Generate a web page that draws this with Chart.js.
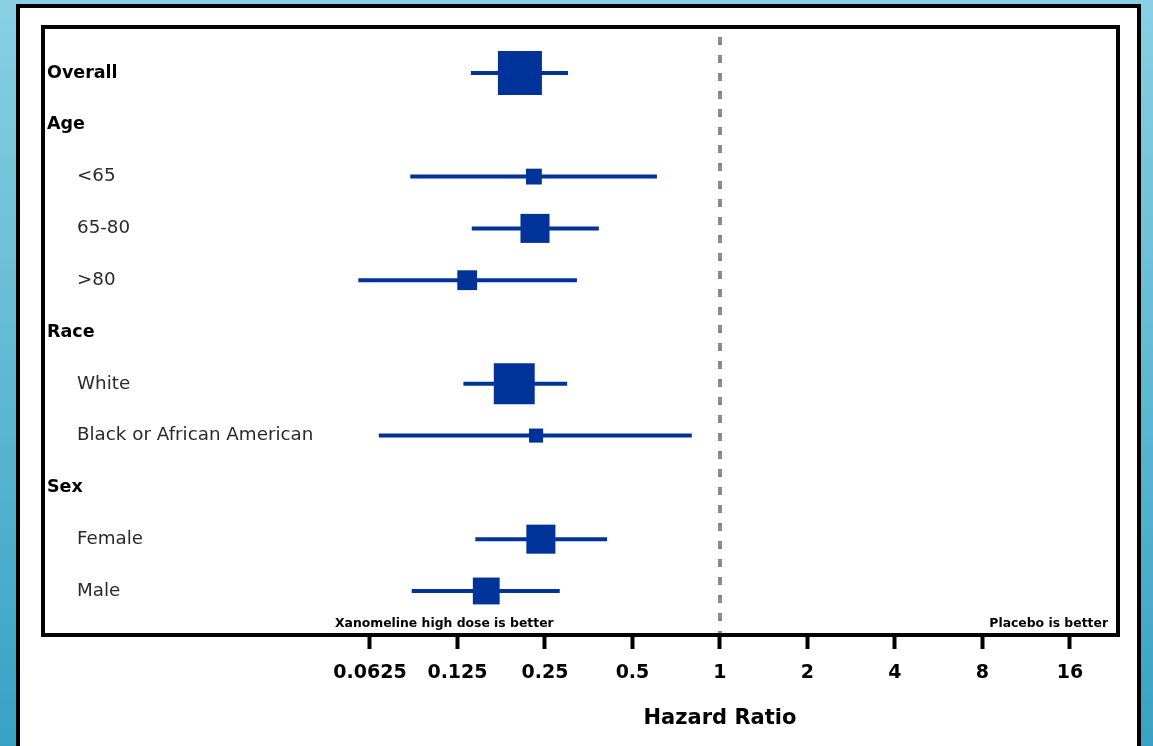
<!DOCTYPE html>
<html>
<head>
<meta charset="utf-8">
<title>Hazard Ratio forest plot</title>
<script src="https://cdn.jsdelivr.net/npm/chart.js@4/dist/chart.umd.min.js"></script>
<style>
  html, body { margin: 0; padding: 0; }
  body {
    width: 1153px; height: 746px; overflow: hidden; position: relative;
    background: linear-gradient(to bottom, #88d0e2, #37a2c3);
  }
  .panel {
    position: absolute; left: 16px; top: 4px; width: 1117px; height: 800px;
    background: #fff; border: 4px solid #000;
  }
  .chart-wrap { position: absolute; left: 0; top: 0; width: 1153px; height: 746px; }
</style>
</head>
<body>
<div class="panel"></div>
<div class="chart-wrap"><canvas id="forest"></canvas></div>
<script>
// Forest plot - hazard ratios by subgroup
const rowLabels = ['Overall', 'Age', '<65', '65-80', '>80', 'Race', 'White',
  'Black or African American', 'Sex', 'Female', 'Male'];
const isHeader = [true, true, false, false, false, true, false, false, true, false, false];
const hazardRatio = [0.205, null, 0.229, 0.231, 0.135, null, 0.196, 0.233, null, 0.242, 0.157];
const lowerCI = [0.139, null, 0.086, 0.140, 0.057, null, 0.131, 0.067, null, 0.144, 0.087];
const upperCI = [0.300, null, 0.607, 0.383, 0.322, null, 0.298, 0.800, null, 0.409, 0.281];
const weights = [100, null, 36, 66, 45, null, 93, 32, null, 66, 61];
const tickValues = [0.0625, 0.125, 0.25, 0.5, 1, 2, 4, 8, 16];
const axisTitle = 'Hazard Ratio';
const leftNote = 'Xanomeline high dose is better';
const rightNote = 'Placebo is better';

const BLUE = '#003399';
const FONT = "'DejaVu Sans', sans-serif";
const Y_MIN = -0.888, Y_MAX = 10.85;

// one line dataset per confidence interval
const ciDatasets = rowLabels.map((label, i) => {
  if (lowerCI[i] == null) return null;
  return {
    type: 'line',
    label: label + ' CI',
    data: [{ x: lowerCI[i], y: i }, { x: upperCI[i], y: i }],
    borderColor: BLUE,
    borderWidth: 4,
    pointRadius: 0,
    borderCapStyle: 'butt'
  };
}).filter(Boolean);

const pointData = [];
const pointSizes = [];
rowLabels.forEach((label, i) => {
  if (hazardRatio[i] == null) return;
  pointData.push({ x: hazardRatio[i], y: i });
  // square side in px ~ weight * 0.44, Chart.js rect side = radius * sqrt(2)
  pointSizes.push(weights[i] * 0.44 / Math.SQRT2);
});

const refLine = {
  type: 'line',
  label: 'HR = 1',
  data: [{ x: 1, y: Y_MIN }, { x: 1, y: Y_MAX }],
  borderColor: '#8a8a8a',
  borderWidth: 4,
  borderDash: [8, 10],
  borderDashOffset: 8,
  pointRadius: 0
};

const annotate = {
  id: 'annotate',
  afterDatasetsDraw(chart) {
    const { ctx, chartArea, scales } = chart;
    const x = scales.x, y = scales.y;
    ctx.save();
    ctx.textBaseline = 'middle';
    rowLabels.forEach((label, i) => {
      const py = y.getPixelForValue(i);
      if (isHeader[i]) {
        ctx.font = 'bold 17.5px ' + FONT;
        ctx.fillStyle = '#000';
        ctx.fillText(label, chartArea.left + 4, py);
      } else {
        ctx.font = '18.3px ' + FONT;
        ctx.fillStyle = '#2a2a2a';
        ctx.fillText(label, chartArea.left + 34, py);
      }
    });
    ctx.fillStyle = '#000';
    ctx.font = 'bold 12.4px ' + FONT;
    ctx.textAlign = 'left';
    ctx.fillText(leftNote, x.getPixelForValue(0.0625) - 35, chartArea.bottom - 11);
    ctx.textAlign = 'right';
    ctx.fillText(rightNote, chartArea.right - 10, chartArea.bottom - 11);
    // plot frame
    ctx.lineWidth = 4;
    ctx.strokeStyle = '#000';
    ctx.strokeRect(chartArea.left, chartArea.top, chartArea.width, chartArea.height);
    // axis title centred on HR = 1
    ctx.font = 'bold 21px ' + FONT;
    ctx.textAlign = 'center';
    ctx.fillText(axisTitle, x.getPixelForValue(1), 719);
    ctx.restore();
  }
};

new Chart(document.getElementById('forest'), {
  type: 'scatter',
  data: {
    datasets: [
      refLine,
      ...ciDatasets,
      {
        type: 'scatter',
        label: 'Hazard ratio',
        data: pointData,
        pointStyle: 'rect',
        pointRadius: pointSizes,
        pointHoverRadius: pointSizes,
        pointBorderWidth: 0,
        backgroundColor: BLUE,
        borderColor: BLUE
      }
    ]
  },
  options: {
    responsive: true,
    maintainAspectRatio: false,
    animation: false,
    layout: {
      autoPadding: false,
      padding: { left: 43, top: 27, right: 35, bottom: 0 }
    },
    plugins: {
      legend: { display: false },
      tooltip: { enabled: false }
    },
    scales: {
      x: {
        type: 'logarithmic',
        min: Math.pow(2, -7.737),
        max: Math.pow(2, 4.549),
        afterBuildTicks(axis) {
          axis.ticks = tickValues.map(v => ({ value: v }));
        },
        afterFit(axis) { axis.height = 111; },
        border: { display: false },
        grid: {
          drawOnChartArea: false,
          drawTicks: true,
          tickLength: 14,
          tickWidth: 4,
          tickColor: '#000'
        },
        ticks: {
          autoSkip: false,
          maxRotation: 0,
          padding: 13,
          color: '#000',
          font: { family: FONT, size: 19, weight: 'bold' },
          callback: (v) => String(v)
        }
      },
      y: {
        type: 'linear',
        display: false,
        reverse: true,
        min: Y_MIN,
        max: Y_MAX
      }
    }
  },
  plugins: [annotate]
});
</script>
</body>
</html>
